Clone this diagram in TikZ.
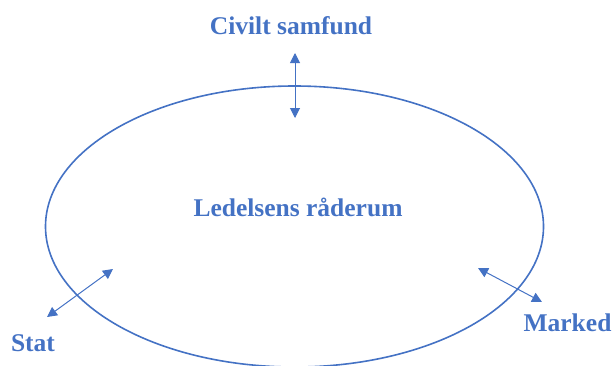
\documentclass[tikz,border=0pt]{standalone}
\usepackage{fontspec}
\setmainfont{Liberation Serif}
\usetikzlibrary{shapes.geometric,arrows.meta}
\definecolor{ofblue}{HTML}{4472C4}
\tikzset{
  lbl/.style={text=ofblue, font=\fontsize{25.6}{30}\selectfont\bfseries, anchor=base, inner sep=0pt},
  dblarrow/.style={draw=ofblue, line width=1bp, {Triangle[width=10bp,length=10bp]}-{Triangle[width=10bp,length=10bp]}},
  oval/.style={draw=ofblue, line width=1.6bp, ellipse, inner sep=0pt, minimum width=498bp, minimum height=281bp}
}
\begin{document}
\begin{tikzpicture}[x=1bp,y=-1bp]
\useasboundingbox (0,0) rectangle (612,365);
\node[oval] (space) at (294.5,226.5) {};
\node[lbl] (center) at (298,216) {Ledelsens råderum};
\node[lbl] (civil) at (291,34) {Civilt samfund};
\node[lbl] (stat) at (33,351) {Stat};
\node[lbl] (marked) at (567.5,331) {Marked};
\coordinate (c1) at (295,53);
\coordinate (c2) at (295,118);
\coordinate (s1) at (47,317);
\coordinate (s2) at (113,269);
\coordinate (m1) at (478,268);
\coordinate (m2) at (542,302);
\draw[dblarrow] (c1) -- (c2);
\draw[dblarrow] (s1) -- (s2);
\draw[dblarrow] (m1) -- (m2);
\end{tikzpicture}
\end{document}
